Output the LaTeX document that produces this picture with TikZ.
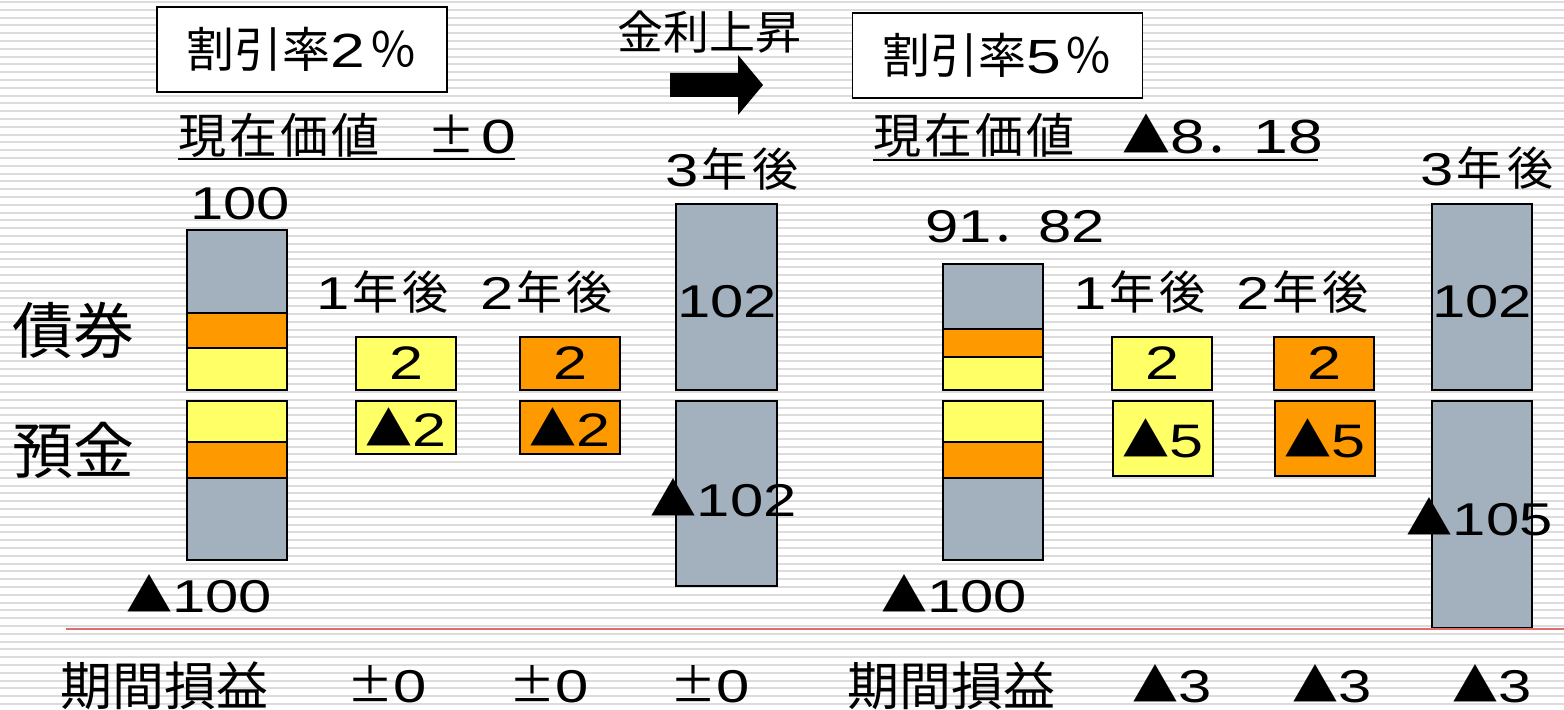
\documentclass[tikz,border=0pt]{standalone}
\usepackage{fontspec}
\setmainfont{Noto Sans CJK JP}
\newfontfamily\dgfont[FakeStretch=1.3]{Liberation Sans}
\newfontfamily\fwfont[CharacterWidth=Full]{Noto Sans CJK JP}
\newcommand\dg[1]{{\dgfont #1}}
\newcommand\plmi{{\fwfont ±}}
\newcommand\yr[1]{\dg{#1}\kern1pt 年\kern2.5pt 後}
\definecolor{barg}{HTML}{A3B1BF}
\definecolor{baro}{HTML}{FF9900}
\definecolor{bary}{HTML}{FFFF66}
\definecolor{stripe}{HTML}{DCDCDC}
\definecolor{redl}{HTML}{E06C6C}
\tikzset{
  lbl/.style={inner sep=0pt,font=\fontsize{23}{23}\selectfont},
  head/.style={inner sep=0pt,font=\fontsize{24}{24}\selectfont},
  side/.style={inner sep=0pt,font=\fontsize{30.5}{30.5}\selectfont},
  foot/.style={inner sep=0pt,font=\fontsize{26}{26}\selectfont},
  rate/.style={draw,fill=white,line width=0.8pt,minimum width=145pt,minimum height=42.5pt,inner sep=0pt,font=\fontsize{24}{24}\selectfont},
  cell/.style={draw,line width=0.75pt,minimum width=50pt,minimum height=26.5pt,inner sep=0pt,font=\fontsize{23.5}{23.5}\selectfont},
}
\begin{document}
\begin{tikzpicture}[x=0.5pt,y=-0.5pt,line width=0.75pt]
\useasboundingbox (0,0) rectangle (1564,710);
% background stripes
\fill[white] (0,0) rectangle (1564,710);
\foreach \i in {0,...,90}
  \fill[stripe] (0,{1+7.8*\i}) rectangle (1564,{3+7.8*\i});
% discount rate 2%
\node[rate] (r2) at (302,49.5) {割引率\dg{2}\kern2pt ％};
\node[head,anchor=west] (pv2) at (178,135) {現\kern1.5pt 在\kern1.5pt 価\kern1.5pt 値　\plmi\kern3pt\dg{0}};
\draw[line width=1pt] (178,159) -- (515,159);
\node[lbl] (v100) at (240,204) {\dg{100}};
\node[side] (bond) at (73,330) {債券};
\node[side] (dep) at (73,450) {預金};
\filldraw[fill=barg] (187,230) rectangle (287,313);
\filldraw[fill=baro] (187,313) rectangle (287,348);
\filldraw[fill=bary] (187,348) rectangle (287,390);
\filldraw[fill=bary] (187,401) rectangle (287,442);
\filldraw[fill=baro] (187,442) rectangle (287,478);
\filldraw[fill=barg] (187,478) rectangle (287,560);
\node[lbl] (m100a) at (199,594) {▲\dg{100}};
\node[lbl,anchor=west] (y1a) at (316,292) {\yr{1}};
\node[lbl,anchor=west] (y2a) at (480,292) {\yr{2}};
\node[cell,fill=bary] (c1a) at (406,363.5) {\dg{2}};
\node[cell,fill=bary] (d1a) at (406,427.5) {▲\dg{2}};
\node[cell,fill=baro] (c2a) at (570,363.5) {\dg{2}};
\node[cell,fill=baro] (d2a) at (570,427.5) {▲\dg{2}};
\node[lbl] (y3a) at (732,169) {\yr{3}};
\filldraw[fill=barg] (676,204) rectangle (777,390);
\filldraw[fill=barg] (676,401) rectangle (777,586);
\node[lbl] (b3a) at (727,302) {\dg{102}};
\node[lbl,anchor=west] (e3a) at (650,498) {▲\dg{102}};
% rate rises
\node[lbl] (up) at (709,32) {金利上昇};
\fill (670,73) -- (738,73) -- (738,55) -- (763,85) -- (738,115) -- (738,97) -- (670,97) -- cycle;
% discount rate 5%
\node[rate] (r5) at (997.5,55.5) {割引率\dg{5}\kern2pt ％};
\node[head,anchor=west] (pv5) at (873,135) {現\kern1.5pt 在\kern1.5pt 価\kern1.5pt 値　▲\dg{8}．\dg{18}};
\draw[line width=1pt] (873,160) -- (1318,160);
\node[lbl] (v92) at (1015,227) {\dg{91}．\dg{82}};
\filldraw[fill=barg] (943,264) rectangle (1043,329);
\filldraw[fill=baro] (943,329) rectangle (1043,357);
\filldraw[fill=bary] (943,357) rectangle (1043,390);
\filldraw[fill=bary] (943,401) rectangle (1043,442);
\filldraw[fill=baro] (943,442) rectangle (1043,478);
\filldraw[fill=barg] (943,478) rectangle (1043,560);
\node[lbl] (m100b) at (954,594) {▲\dg{100}};
\node[lbl,anchor=west] (y1b) at (1073,292) {\yr{1}};
\node[lbl,anchor=west] (y2b) at (1236,292) {\yr{2}};
\node[cell,fill=bary] (c1b) at (1162,363.5) {\dg{2}};
\node[cell,fill=bary,minimum height=37.5pt] (d1b) at (1163,438.5) {▲\dg{5}};
\node[cell,fill=baro] (c2b) at (1324,363.5) {\dg{2}};
\node[cell,fill=baro,minimum height=37.5pt] (d2b) at (1325,438.5) {▲\dg{5}};
\node[lbl] (y3b) at (1487,168) {\yr{3}};
\filldraw[fill=barg] (1432,204) rectangle (1532,390);
\filldraw[fill=barg] (1432,401) rectangle (1532,628);
\node[lbl] (b3b) at (1482,302) {\dg{102}};
\node[lbl,anchor=west] (e3b) at (1406,517) {▲\dg{105}};
% period profit and loss
\draw[redl,line width=1pt] (66,629) -- (1564,629);
\node[foot,anchor=west] (pla) at (60,686) {期間損益};
\node[lbl,anchor=west] (pa1) at (347,684) {\plmi\dg{0}};
\node[lbl,anchor=west] (pa2) at (509,684) {\plmi\dg{0}};
\node[lbl,anchor=west] (pa3) at (670,684) {\plmi\dg{0}};
\node[foot,anchor=west] (plb) at (847,686) {期間損益};
\node[lbl,anchor=west] (pb1) at (1132,684) {▲\dg{3}};
\node[lbl,anchor=west] (pb2) at (1292,684) {▲\dg{3}};
\node[lbl,anchor=west] (pb3) at (1452,684) {▲\dg{3}};
\end{tikzpicture}
\end{document}
